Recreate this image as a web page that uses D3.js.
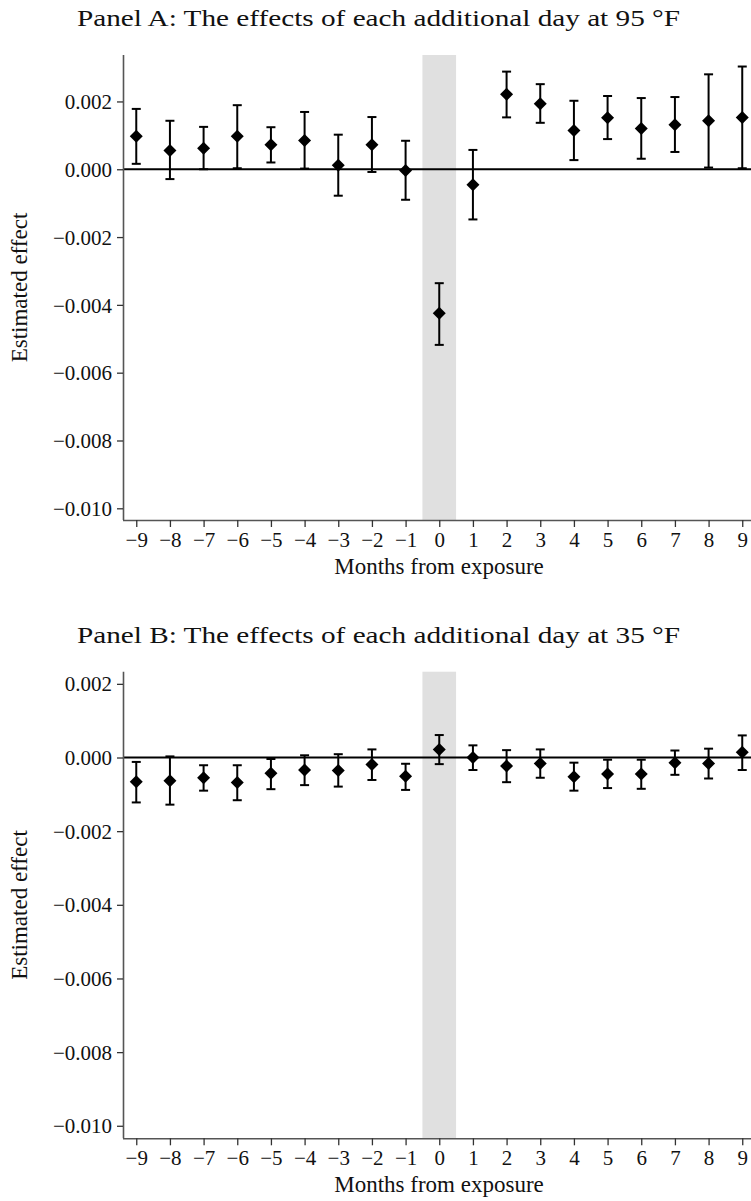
<!DOCTYPE html>
<html>
<head>
<meta charset="utf-8">
<script src="https://cdn.jsdelivr.net/npm/d3@7"></script>
<style>
  html, body { margin: 0; padding: 0; background: #fff; }
  svg { display: block; }
</style>
</head>
<body>
<svg id="chart" width="751" height="1201"></svg>
<script>
// ---- Data ----
const months = [-9,-8,-7,-6,-5,-4,-3,-2,-1,0,1,2,3,4,5,6,7,8,9];
const xTickLabels = ["−9","−8","−7","−6","−5","−4","−3","−2","−1","0","1","2","3","4","5","6","7","8","9"];
const yTicks = [0.002, 0.000, -0.002, -0.004, -0.006, -0.008, -0.010];
const yTickLabels = ["0.002","0.000","−0.002","−0.004","−0.006","−0.008","−0.010"];

// Panel A: 95 °F
const estA  = [0.00097, 0.00055, 0.00062, 0.00097, 0.00072, 0.00085, 0.00012, 0.00072, -0.00004, -0.00425, -0.00046, 0.00221, 0.00193, 0.00114, 0.00152, 0.00120, 0.00131, 0.00143, 0.00153];
const hiA   = [0.00178, 0.00143, 0.00125, 0.00189, 0.00124, 0.00169, 0.00102, 0.00154, 0.00084, -0.00336, 0.00057, 0.00288, 0.00251, 0.00202, 0.00216, 0.00210, 0.00213, 0.00280, 0.00303];
const loA   = [0.00016, -0.00029, 0.00000, 0.00003, 0.00020, 0.00002, -0.00078, -0.00008, -0.00090, -0.00518, -0.00148, 0.00153, 0.00137, 0.00027, 0.00089, 0.00031, 0.00051, 0.00005, 0.00003];

// Panel B: 35 °F
const estB  = [-0.00066, -0.00063, -0.00055, -0.00068, -0.00043, -0.00034, -0.00035, -0.00019, -0.00051, 0.00022, 0.00000, -0.00023, -0.00016, -0.00052, -0.00045, -0.00045, -0.00014, -0.00016, 0.00014];
const hiB   = [-0.00012, 0.00003, -0.00021, -0.00021, -0.00004, 0.00006, 0.00009, 0.00022, -0.00017, 0.00061, 0.00033, 0.00020, 0.00022, -0.00014, -0.00006, -0.00006, 0.00019, 0.00024, 0.00060];
const loB   = [-0.00122, -0.00128, -0.00090, -0.00116, -0.00086, -0.00075, -0.00079, -0.00061, -0.00088, -0.00018, -0.00034, -0.00067, -0.00055, -0.00090, -0.00083, -0.00085, -0.00047, -0.00057, -0.00034];

const panels = [
  { title: "Panel A: The effects of each additional day at 95 °F", est: estA, hi: hiA, lo: loA,
    top: 55, bottom: 520, yDomain: [-0.010345, 0.00337], titleY: 26 },
  { title: "Panel B: The effects of each additional day at 35 °F", est: estB, hi: hiB, lo: loB,
    top: 671.7, bottom: 1138.3, yDomain: [-0.01034, 0.00233], titleY: 643 }
];

const svg = d3.select("#chart");
const left = 123, right = 751;
const x = d3.scaleLinear().domain([-9.394, 9.26]).range([left, right]);
const serif = "'Liberation Serif', 'Times New Roman', serif";
const axisColor = "#555";

panels.forEach(p => {
  const y = d3.scaleLinear().domain(p.yDomain).range([p.bottom, p.top]);
  const g = svg.append("g");

  // title
  g.append("text")
    .attr("x", 378.5).attr("y", p.titleY)
    .attr("text-anchor", "middle")
    .attr("font-family", serif).attr("font-size", 24)
    .attr("textLength", 603).attr("lengthAdjust", "spacingAndGlyphs")
    .attr("fill", "#111")
    .text(p.title);

  // shaded exposure month
  g.append("rect")
    .attr("x", x(-0.5)).attr("y", p.top)
    .attr("width", x(0.5) - x(-0.5)).attr("height", p.bottom - p.top)
    .attr("fill", "#e0e0e0");

  // zero line
  g.append("line")
    .attr("x1", left).attr("x2", right)
    .attr("y1", y(0)).attr("y2", y(0))
    .attr("stroke", "#000").attr("stroke-width", 1.8);

  // y axis
  const yAxis = d3.axisLeft(y).tickValues(yTicks).tickSize(6).tickPadding(5)
    .tickFormat((d, i) => yTickLabels[i]);
  const ya = g.append("g").attr("transform", `translate(${left},0)`).call(yAxis);
  ya.select(".domain").attr("stroke", axisColor).attr("stroke-width", 1.6)
    .attr("d", `M0.5,${p.top}V${p.bottom}`);
  ya.selectAll(".tick line").attr("stroke", "#333").attr("stroke-width", 1.3);
  ya.selectAll(".tick text").attr("font-family", serif).attr("font-size", 21).attr("fill", "#111")
    .attr("dy", "0.34em");

  // x axis
  const xAxis = d3.axisBottom(x).tickValues(months).tickSize(7).tickPadding(5)
    .tickFormat((d, i) => xTickLabels[i]);
  const xa = g.append("g").attr("transform", `translate(0,${p.bottom})`).call(xAxis);
  xa.select(".domain").attr("stroke", axisColor).attr("stroke-width", 1.6)
    .attr("d", `M${left},0.5H${right}`);
  xa.selectAll(".tick line").attr("stroke", "#333").attr("stroke-width", 1.3);
  xa.selectAll(".tick text").attr("font-family", serif).attr("font-size", 21).attr("fill", "#111");

  // axis titles
  g.append("text")
    .attr("x", 439).attr("y", p.bottom + 54)
    .attr("text-anchor", "middle")
    .attr("font-family", serif).attr("font-size", 23).attr("fill", "#111")
    .text("Months from exposure");
  g.append("text")
    .attr("transform", `translate(27,${(p.top + p.bottom) / 2}) rotate(-90)`)
    .attr("text-anchor", "middle")
    .attr("font-family", serif).attr("font-size", 23).attr("fill", "#111")
    .text("Estimated effect");

  // error bars
  const data = months.map((m, i) => ({ m, est: p.est[i], hi: p.hi[i], lo: p.lo[i] }));
  const eb = g.append("g").attr("stroke", "#000").attr("stroke-width", 2);
  eb.selectAll("line.v").data(data).join("line").attr("class", "v")
    .attr("x1", d => x(d.m)).attr("x2", d => x(d.m))
    .attr("y1", d => y(d.hi)).attr("y2", d => y(d.lo));
  eb.selectAll("line.ch").data(data).join("line").attr("class", "ch")
    .attr("x1", d => x(d.m) - 4.5).attr("x2", d => x(d.m) + 4.5)
    .attr("y1", d => y(d.hi)).attr("y2", d => y(d.hi));
  eb.selectAll("line.cl").data(data).join("line").attr("class", "cl")
    .attr("x1", d => x(d.m) - 4.5).attr("x2", d => x(d.m) + 4.5)
    .attr("y1", d => y(d.lo)).attr("y2", d => y(d.lo));

  // diamonds
  g.selectAll("path.pt").data(data).join("path").attr("class", "pt")
    .attr("transform", d => `translate(${x(d.m)},${y(d.est)})`)
    .attr("d", "M0,-6.5L6.5,0L0,6.5L-6.5,0Z")
    .attr("fill", "#000");
});
</script>
</body>
</html>
